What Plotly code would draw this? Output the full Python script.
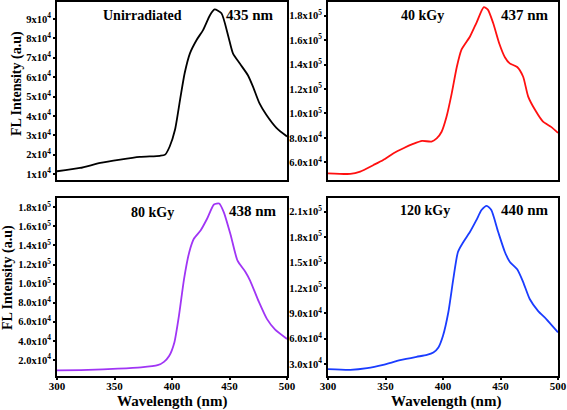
import plotly.graph_objects as go
from plotly.subplots import make_subplots

# ---- data ----
wl_unirr = [300, 320, 337.6, 355, 372, 389.6, 394, 398, 402.6, 407, 411, 415.6, 421.4, 427, 433, 437, 443, 449, 453, 459, 466, 470.5, 476, 482, 491, 500]
fl_unirr = [1.14e4, 1.31e4, 1.57e4, 1.74e4, 1.88e4, 1.94e4, 2.0e4, 2.42e4, 3.28e4, 4.83e4, 6.2e4, 7.23e4, 7.92e4, 8.43e4, 9.2e4, 9.5e4, 9.3e4, 8.1e4, 7.23e4, 6.7e4, 6.1e4, 5.5e4, 4.66e4, 4.06e4, 3.37e4, 2.94e4]

wl_40 = [300, 319.4, 328, 339.6, 348, 357, 365.6, 374, 381.8, 390, 394.5, 398.8, 403, 407.5, 412, 416, 423.5, 429, 435.5, 439, 443.6, 449, 453.8, 458, 464.5, 469.7, 474, 480, 487, 494, 500]
fl_40 = [5.1e4, 5.05e4, 5.24e4, 5.78e4, 6.19e4, 6.74e4, 7.15e4, 7.5e4, 7.75e4, 7.7e4, 7.96e4, 8.5e4, 9.7e4, 11.6e4, 13.8e4, 15.2e4, 16.3e4, 17.4e4, 18.7e4, 18.5e4, 17.4e4, 15.7e4, 14.6e4, 14.1e4, 13.8e4, 13.0e4, 11.4e4, 10.3e4, 9.33e4, 8.9e4, 8.4e4]

wl_80 = [300, 327, 353, 373, 387.5, 393, 397.5, 402, 406, 410.5, 415, 419, 425, 430.5, 436.5, 441, 445, 451, 457, 464, 468, 475.5, 482.5, 489.5, 500]
fl_80 = [0.91e4, 0.95e4, 1.08e4, 1.22e4, 1.44e4, 1.79e4, 2.4e4, 3.8e4, 6.6e4, 10.5e4, 13.3e4, 14.7e4, 15.6e4, 16.8e4, 18.3e4, 18.4e4, 17.5e4, 15.1e4, 12.4e4, 11.2e4, 10.3e4, 8.1e4, 6.3e4, 5.2e4, 4.2e4]

wl_120 = [300, 319.4, 334, 348, 362.7, 377, 386, 391.6, 396, 400, 404.6, 409, 413, 417.6, 423.4, 429, 433.5, 438, 442, 448, 453.8, 458, 464.5, 469.7, 475.4, 482.6, 490, 500]
fl_120 = [2.41e4, 2.33e4, 2.53e4, 2.92e4, 3.47e4, 3.87e4, 4.1e4, 4.38e4, 4.98e4, 6.36e4, 9.1e4, 13.1e4, 16.25e4, 17.4e4, 18.6e4, 20.0e4, 21.2e4, 21.7e4, 21.2e4, 18.6e4, 16.25e4, 15.1e4, 14.2e4, 12.7e4, 10.7e4, 9.3e4, 8.3e4, 6.76e4]

labels = ["Unirradiated", "40 kGy", "80 kGy", "120 kGy"]
peaks = ["435 nm", "437 nm", "438 nm", "440 nm"]

ytick_vals_1 = [1e4, 2e4, 3e4, 4e4, 5e4, 6e4, 7e4, 8e4, 9e4]
ytick_text_1 = ["1x10<sup>4</sup>", "2x10<sup>4</sup>", "3x10<sup>4</sup>", "4x10<sup>4</sup>", "5x10<sup>4</sup>",
                "6x10<sup>4</sup>", "7x10<sup>4</sup>", "8x10<sup>4</sup>", "9x10<sup>4</sup>"]
ytick_vals_2 = [6e4, 8e4, 1.0e5, 1.2e5, 1.4e5, 1.6e5, 1.8e5]
ytick_text_2 = ["6.0x10<sup>4</sup>", "8.0x10<sup>4</sup>", "1.0x10<sup>5</sup>", "1.2x10<sup>5</sup>",
                "1.4x10<sup>5</sup>", "1.6x10<sup>5</sup>", "1.8x10<sup>5</sup>"]
ytick_vals_3 = [2e4, 4e4, 6e4, 8e4, 1.0e5, 1.2e5, 1.4e5, 1.6e5, 1.8e5]
ytick_text_3 = ["2.0x10<sup>4</sup>", "4.0x10<sup>4</sup>", "6.0x10<sup>4</sup>", "8.0x10<sup>4</sup>",
                "1.0x10<sup>5</sup>", "1.2x10<sup>5</sup>", "1.4x10<sup>5</sup>", "1.6x10<sup>5</sup>", "1.8x10<sup>5</sup>"]
ytick_vals_4 = [3e4, 6e4, 9e4, 1.2e5, 1.5e5, 1.8e5, 2.1e5]
ytick_text_4 = ["3.0x10<sup>4</sup>", "6.0x10<sup>4</sup>", "9.0x10<sup>4</sup>", "1.2x10<sup>5</sup>",
                "1.5x10<sup>5</sup>", "1.8x10<sup>5</sup>", "2.1x10<sup>5</sup>"]
xtick_vals = [300, 350, 400, 450, 500]

colors = ["#000000", "#ff1010", "#a035f5", "#1a3cff"]

W, H = 567, 410
ML, MR, MT, MB = 57, 9, 2, 34
PW, PH = W - ML - MR, H - MT - MB


def px(x):
    return (x - ML) / PW


def py(y):
    return (H - MB - y) / PH


fig = make_subplots(rows=2, cols=2, horizontal_spacing=0.082, vertical_spacing=0.048)
series = [(wl_unirr, fl_unirr), (wl_40, fl_40), (wl_80, fl_80), (wl_120, fl_120)]
pos = [(1, 1), (1, 2), (2, 1), (2, 2)]
for (xs, ys), (r, c), col in zip(series, pos, colors):
    fig.add_trace(go.Scatter(x=xs, y=ys, mode="lines", line=dict(color=col, width=1.8, shape="spline", smoothing=0.6),
                             showlegend=False), row=r, col=c)

font_family = "Liberation Serif, Times New Roman, serif"
xdom_l = [px(57), px(287)]
xdom_r = [px(328), px(558)]
ydom_t = [py(180), py(2)]
ydom_b = [py(376), py(198)]

yranges = [[0.69e4, 9.88e4], [4.55e4, 1.912e5], [0.31e4, 1.898e5], [1.61e4, 2.262e5]]
yt = [(ytick_vals_1, ytick_text_1), (ytick_vals_2, ytick_text_2), (ytick_vals_3, ytick_text_3), (ytick_vals_4, ytick_text_4)]
xd = [xdom_l, xdom_r, xdom_l, xdom_r]
yd = [ydom_t, ydom_t, ydom_b, ydom_b]

for i in range(4):
    xa = "xaxis" if i == 0 else f"xaxis{i + 1}"
    ya = "yaxis" if i == 0 else f"yaxis{i + 1}"
    fig.layout[xa].update(domain=xd[i], range=[300, 500], showline=True, mirror=True, linecolor="black",
                          linewidth=2, ticks="outside" if i >= 2 else "", ticklen=2, tickwidth=1.5,
                          tickcolor="black", tickvals=xtick_vals, showticklabels=i >= 2, automargin=False,
                          ticklabelstandoff=-3,
                          tickfont=dict(family=font_family, size=11, color="black", weight="bold"),
                          showgrid=False, zeroline=False)
    fig.layout[ya].update(domain=yd[i], range=yranges[i], showline=True, mirror=True, linecolor="black",
                          linewidth=2, ticks="outside", ticklen=2, tickwidth=1.5, tickcolor="black",
                          tickvals=yt[i][0], ticktext=yt[i][1], automargin=False,
                          tickfont=dict(family=font_family, size=10.5, color="black", weight="bold"),
                          showgrid=False, zeroline=False)

label_pos = [(142, 15), (422, 15), (152, 212), (425, 210)]
peak_pos = [(250, 15), (525, 15), (253, 211), (525, 210)]
for lab, (x, y) in zip(labels, label_pos):
    fig.add_annotation(x=px(x), y=py(y), xref="paper", yref="paper", text=lab, showarrow=False,
                       xanchor="center", yanchor="middle",
                       font=dict(family=font_family, size=14, color="black", weight="bold"))
for lab, (x, y) in zip(peaks, peak_pos):
    fig.add_annotation(x=px(x), y=py(y), xref="paper", yref="paper", text=lab, showarrow=False,
                       xanchor="center", yanchor="middle",
                       font=dict(family=font_family, size=15, color="black", weight="bold"))

title_font = dict(family=font_family, size=14, color="black", weight="bold")
for xc, yc in ((17, 84), (8, 278)):
    fig.add_annotation(x=px(xc), y=py(yc), xref="paper", yref="paper", text="FL Intensity (a.u)",
                       textangle=-90, showarrow=False, xanchor="center", yanchor="middle", font=title_font)
for xc in (172, 446):
    fig.add_annotation(x=px(xc), y=py(401), xref="paper", yref="paper", text="Wavelength (nm)",
                       showarrow=False, xanchor="center", yanchor="middle",
                       font=dict(family=font_family, size=15, color="black", weight="bold"))

fig.update_layout(width=W, height=H, margin=dict(l=ML, r=MR, t=MT, b=MB, autoexpand=False),
                  plot_bgcolor="white", paper_bgcolor="white", showlegend=False)
fig.write_html("out.html", config={"displayModeBar": False},
               post_script="document.body.style.margin='0';document.body.style.overflow='hidden';")
